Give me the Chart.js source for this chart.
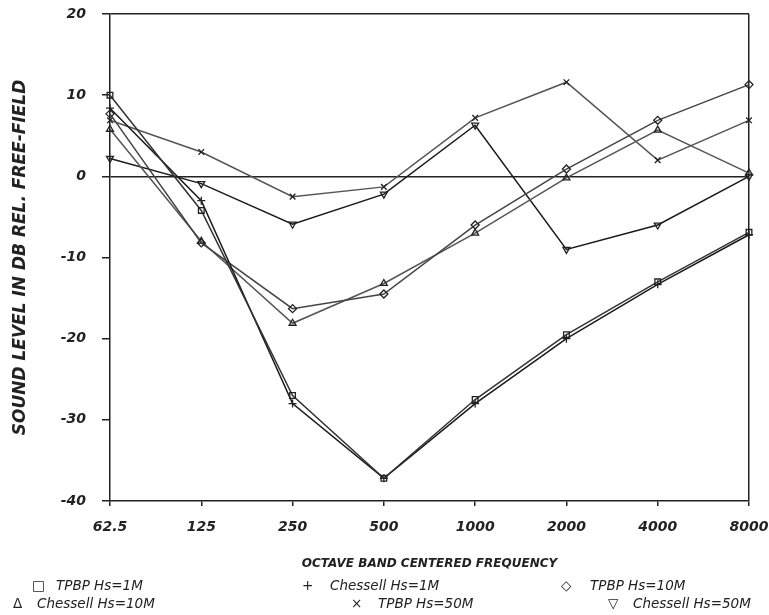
<!DOCTYPE html>
<html>
<head>
<meta charset="utf-8">
<script src="https://cdn.jsdelivr.net/npm/chart.js@4"></script>
<style>
  body { margin: 0; background: #fff; }
  #wrap { position: relative; width: 769px; height: 615px; }
  #legend span { position: absolute; font: italic 13.5px "DejaVu Sans", sans-serif; color: #222; white-space: nowrap; }
</style>
</head>
<body>
<div id="wrap">
  <canvas id="chart" width="769" height="615"></canvas>
  <div id="legend"></div>
</div>
<script>
// octave band centre frequencies (Hz)
const frequencies = ["62.5", "125", "250", "500", "1000", "2000", "4000", "8000"];

// sound level in dB relative to free-field
const tpbp1m      = [10.0, -4.2, -27.0, -37.2, -27.5, -19.5, -13.0, -6.9];
const chessell1m  = [8.4, -3.0, -28.0, -37.2, -28.0, -20.0, -13.3, -7.2];
const tpbp10m     = [7.7, -8.2, -16.3, -14.5, -6.0, 0.9, 6.9, 11.3];
const chessell10m = [5.8, -8.0, -18.1, -13.2, -7.0, -0.2, 5.7, 0.4];
const tpbp50m     = [6.9, 3.0, -2.5, -1.3, 7.2, 11.6, 2.0, 6.9];
const chessell50m = [2.2, -0.9, -5.9, -2.2, 6.3, -9.0, -6.0, 0.0];

const seriesNames = ["TPBP Hs=1M", "Chessell Hs=1M", "TPBP Hs=10M", "Chessell Hs=10M", "TPBP Hs=50M", "Chessell Hs=50M"];
const legendSymbols = ["\u25A1", "+", "\u25C7", "\u0394", "\u00D7", "\u25BD"];

const yTicks = [-40, -30, -20, -10, 0, 10, 20];

// legend slots: [symbol x, text x, row y]
const legendSlots = [[32, 56, 577], [302, 330, 577], [561, 590, 577], [13, 37, 595], [351, 378, 595], [608, 633, 595]];

const ink = "#222";

function series(label, data, style, color, rotation) {
    return {
        label: label,
        data: data,
        borderColor: color,
        borderWidth: 1.5,
        pointStyle: style,
        pointRotation: rotation || 0,
        pointRadius: 4,
        pointBorderColor: ink,
        pointBorderWidth: 1.3,
        pointBackgroundColor: "rgba(255,255,255,0)",
        tension: 0
    };
}

let ctx = document.getElementById("chart").getContext("2d");
new Chart(ctx, {
    type: "line",
    data: {
        labels: frequencies,
        datasets: [
            series(seriesNames[0], tpbp1m, "rect", "#333"),
            series(seriesNames[1], chessell1m, "cross", "#1a1a1a"),
            series(seriesNames[2], tpbp10m, "rectRot", "#444"),
            series(seriesNames[3], chessell10m, "triangle", "#555"),
            series(seriesNames[4], tpbp50m, "crossRot", "#555"),
            series(seriesNames[5], chessell50m, "triangle", "#1a1a1a", 180)
        ]
    },
    options: {
        responsive: false,
        animation: false,
        layout: { padding: { left: 0, right: 20, top: 14, bottom: 44 } },
        plugins: { legend: { display: false }, tooltip: { enabled: false } },
        scales: {
            x: {
                offset: false,
                afterFit: function (scale) {
                    scale.height = 70;
                    scale.paddingLeft = 0;
                    scale.paddingRight = 0;
                },
                border: { display: true, color: ink, width: 1.5 },
                grid: {
                    drawOnChartArea: true,
                    color: function (c) { return c.index === frequencies.length - 1 ? ink : "rgba(0,0,0,0)"; },
                    lineWidth: 1.5,
                    tickColor: ink,
                    tickLength: 5
                },
                ticks: {
                    color: ink,
                    padding: 13,
                    maxRotation: 0,
                    font: { family: "DejaVu Sans", style: "italic", weight: "bold", size: 14 }
                },
                title: {
                    display: true,
                    text: "OCTAVE BAND CENTERED FREQUENCY",
                    color: ink,
                    padding: { top: 4, bottom: 0 },
                    font: { family: "DejaVu Sans", style: "italic", weight: "bold", size: 12 }
                }
            },
            y: {
                min: -40,
                max: 20,
                afterFit: function (scale) {
                    scale.width = 110;
                    scale.paddingTop = 0;
                    scale.paddingBottom = 0;
                },
                afterBuildTicks: function (scale) { scale.ticks = yTicks.map(v => ({ value: v })); },
                border: { display: true, color: ink, width: 1.5 },
                grid: {
                    drawOnChartArea: true,
                    color: function (c) { return (c.tick.value === 0 || c.tick.value === 20) ? ink : "rgba(0,0,0,0)"; },
                    lineWidth: 1.5,
                    tickColor: ink,
                    tickLength: 8
                },
                ticks: {
                    color: ink,
                    padding: 16,
                    font: { family: "DejaVu Sans", style: "italic", weight: "bold", size: 14 }
                },
                title: {
                    display: true,
                    text: "SOUND LEVEL IN DB REL. FREE-FIELD",
                    color: ink,
                    padding: { top: 10, bottom: 0 },
                    font: { family: "DejaVu Sans", style: "italic", weight: "bold", size: 17 }
                }
            }
        }
    }
});

// legend built from the series names, laid out in two rows like the original
let legend = document.getElementById("legend");
seriesNames.forEach(function (name, i) {
    let slot = legendSlots[i];
    let sym = document.createElement("span");
    sym.textContent = legendSymbols[i];
    sym.style.left = slot[0] + "px";
    sym.style.top = slot[2] + "px";
    sym.style.fontStyle = "normal";
    let txt = document.createElement("span");
    txt.textContent = name;
    txt.style.left = slot[1] + "px";
    txt.style.top = slot[2] + "px";
    legend.appendChild(sym);
    legend.appendChild(txt);
});
</script>
</body>
</html>
